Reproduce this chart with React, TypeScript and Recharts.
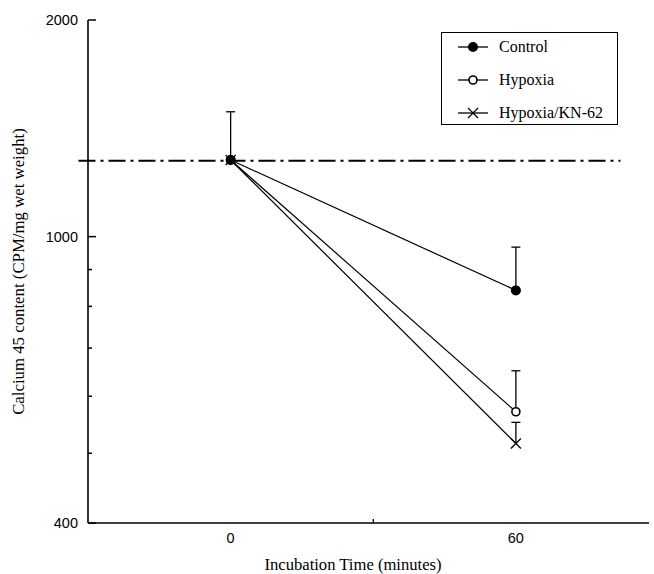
import { ErrorBar, Legend, Line, LineChart, ReferenceLine, XAxis, YAxis } from "recharts";

// incubation time (minutes)
const times = [0, 60];

// Calcium 45 content (CPM/mg wet weight), log axis
const control = [1278, 842];
const hypoxia = [1278, 571];
const hypoxiaKn62 = [1278, 516];

// upward error bar heights (null = no bar drawn)
const controlErr: (number | null)[] = [213, 125];
const hypoxiaErr: (number | null)[] = [null, 80];
const hypoxiaKn62Err: (number | null)[] = [null, 36];

const baseline = 1275;

const yTicks = [400, 500, 600, 700, 800, 900, 1000, 2000];
const yLabels = [400, 1000, 2000];
const xTicks = [0, 30, 60];
const xLabels = [0, 60];

const SERIF = "'Liberation Serif', 'Times New Roman', serif";
const SANS = "'Liberation Sans', Arial, sans-serif";

const toErr = (e: number | null) => (e == null ? null : [0, e]);

const rows = times.map((t, i) => ({
  t,
  control: control[i],
  hypoxia: hypoxia[i],
  kn62: hypoxiaKn62[i],
  controlErr: toErr(controlErr[i]),
  hypoxiaErr: toErr(hypoxiaErr[i]),
  kn62Err: toErr(hypoxiaKn62Err[i]),
}));

type MarkerKind = "filled" | "open" | "cross";

const legendItems: { name: string; marker: MarkerKind }[] = [
  { name: "Control", marker: "filled" },
  { name: "Hypoxia", marker: "open" },
  { name: "Hypoxia/KN-62", marker: "cross" },
];

function Marker({ kind, cx, cy }: { kind: MarkerKind; cx: number; cy: number }) {
  if (kind === "filled") return <circle cx={cx} cy={cy} r={5} fill="#000" />;
  if (kind === "open")
    return <circle cx={cx} cy={cy} r={4} fill="#fff" stroke="#000" strokeWidth={1.6} />;
  return (
    <path
      d={`M${cx - 5},${cy - 5}L${cx + 5},${cy + 5}M${cx + 5},${cy - 5}L${cx - 5},${cy + 5}`}
      stroke="#000"
      strokeWidth={1.3}
      fill="none"
    />
  );
}

const dotOf = (kind: MarkerKind) => (p: any) =>
  p.cx == null ? <g key={p.index} /> : <Marker key={p.index} kind={kind} cx={p.cx} cy={p.cy} />;

function YTick({ x, y, payload }: any) {
  const major = yLabels.includes(payload.value);
  return (
    <g>
      <line x1={x} y1={y} x2={x + (major ? 8 : 4)} y2={y} stroke="#000" strokeWidth={1.5} />
      {major && (
        <text
          x={x - 10}
          y={y}
          textAnchor="end"
          dominantBaseline="central"
          fontFamily={SANS}
          fontSize={14.5}
          fill="#000"
        >
          {payload.value}
        </text>
      )}
    </g>
  );
}

function XTick({ x, y, payload }: any) {
  const labelled = xLabels.includes(payload.value);
  return (
    <g>
      {!labelled && <line x1={x} y1={y} x2={x} y2={y - 4} stroke="#000" strokeWidth={1.3} />}
      {labelled && (
        <text
          x={x}
          y={y + 15}
          textAnchor="middle"
          dominantBaseline="central"
          fontFamily={SANS}
          fontSize={14.5}
          fill="#000"
        >
          {payload.value}
        </text>
      )}
    </g>
  );
}

function LegendBox() {
  return (
    <div
      style={{
        border: "1.5px solid #000",
        background: "#fff",
        width: 175,
        height: 91,
        boxSizing: "content-box",
      }}
    >
      {legendItems.map((it, i) => (
        <div
          key={it.name}
          style={{ display: "flex", alignItems: "center", height: 33, marginTop: i === 0 ? -3 : 0 }}
        >
          <svg width={57} height={20} style={{ flex: "none" }}>
            <line x1={16} y1={10} x2={46} y2={10} stroke="#000" strokeWidth={1.3} />
            <Marker kind={it.marker} cx={31} cy={10} />
          </svg>
          <span style={{ fontFamily: SERIF, fontSize: 16, color: "#000", whiteSpace: "nowrap" }}>
            {it.name}
          </span>
        </div>
      ))}
    </div>
  );
}

export default function App() {
  return (
    <div style={{ position: "absolute", left: 0, top: 0, width: 654, height: 574, background: "#fff" }}>
      <style>{`.recharts-errorBar line:nth-of-type(3){display:none}`}</style>
      <LineChart width={654} height={574} data={rows} margin={{ top: 20, right: 5, bottom: 0, left: 0 }}>
        <XAxis
          dataKey="t"
          type="number"
          domain={[-30, 88]}
          ticks={xTicks}
          allowDataOverflow
          height={51}
          tickSize={0}
          tickMargin={0}
          tick={<XTick />}
          axisLine={{ stroke: "#000", strokeWidth: 1.6 }}
          tickLine={false}
          label={{
            content: () => (
              <text
                x={353}
                y={564}
                textAnchor="middle"
                dominantBaseline="central"
                fontFamily={SERIF}
                fontSize={16.6}
                fill="#000"
              >
                Incubation Time (minutes)
              </text>
            ),
          }}
        />
        <YAxis
          type="number"
          scale="log"
          domain={[400, 2000]}
          ticks={yTicks}
          allowDataOverflow
          width={88}
          tickSize={0}
          tickMargin={0}
          tick={<YTick />}
          axisLine={{ stroke: "#000", strokeWidth: 1.6 }}
          tickLine={false}
          interval={0}
          label={{
            content: (props: any) => {
              const vb = props.viewBox || { y: 20, height: 503 };
              const cy = vb.y + vb.height / 2;
              return (
                <text
                  x={18}
                  y={cy}
                  transform={`rotate(-90, 18, ${cy})`}
                  textAnchor="middle"
                  dominantBaseline="central"
                  fontFamily={SERIF}
                  fontSize={16.8}
                  fill="#000"
                >
                  Calcium 45 content (CPM/mg wet weight)
                </text>
              );
            },
          }}
        />
        <ReferenceLine
          segment={[
            { x: -32, y: baseline },
            { x: 82, y: baseline },
          ]}
          ifOverflow="visible"
          stroke="#000"
          strokeWidth={2}
          strokeDasharray="17 5 3 5"
        />
        <Line
          dataKey="kn62"
          name="Hypoxia/KN-62"
          stroke="#000"
          strokeWidth={1.2}
          dot={dotOf("cross")}
          activeDot={false}
          isAnimationActive={false}
        >
          <ErrorBar dataKey="kn62Err" direction="y" width={4.5} stroke="#000" strokeWidth={1.3} />
        </Line>
        <Line
          dataKey="hypoxia"
          name="Hypoxia"
          stroke="#000"
          strokeWidth={1.2}
          dot={dotOf("open")}
          activeDot={false}
          isAnimationActive={false}
        >
          <ErrorBar dataKey="hypoxiaErr" direction="y" width={4.5} stroke="#000" strokeWidth={1.3} />
        </Line>
        <Line
          dataKey="control"
          name="Control"
          stroke="#000"
          strokeWidth={1.2}
          dot={dotOf("filled")}
          activeDot={false}
          isAnimationActive={false}
        >
          <ErrorBar dataKey="controlErr" direction="y" width={4.5} stroke="#000" strokeWidth={1.3} />
        </Line>
        <Legend
          layout="horizontal"
          verticalAlign="middle"
          align="center"
          content={() => <LegendBox />}
          wrapperStyle={{ position: "absolute", left: 441, top: 32, width: "auto", height: "auto" }}
        />
      </LineChart>
    </div>
  );
}
